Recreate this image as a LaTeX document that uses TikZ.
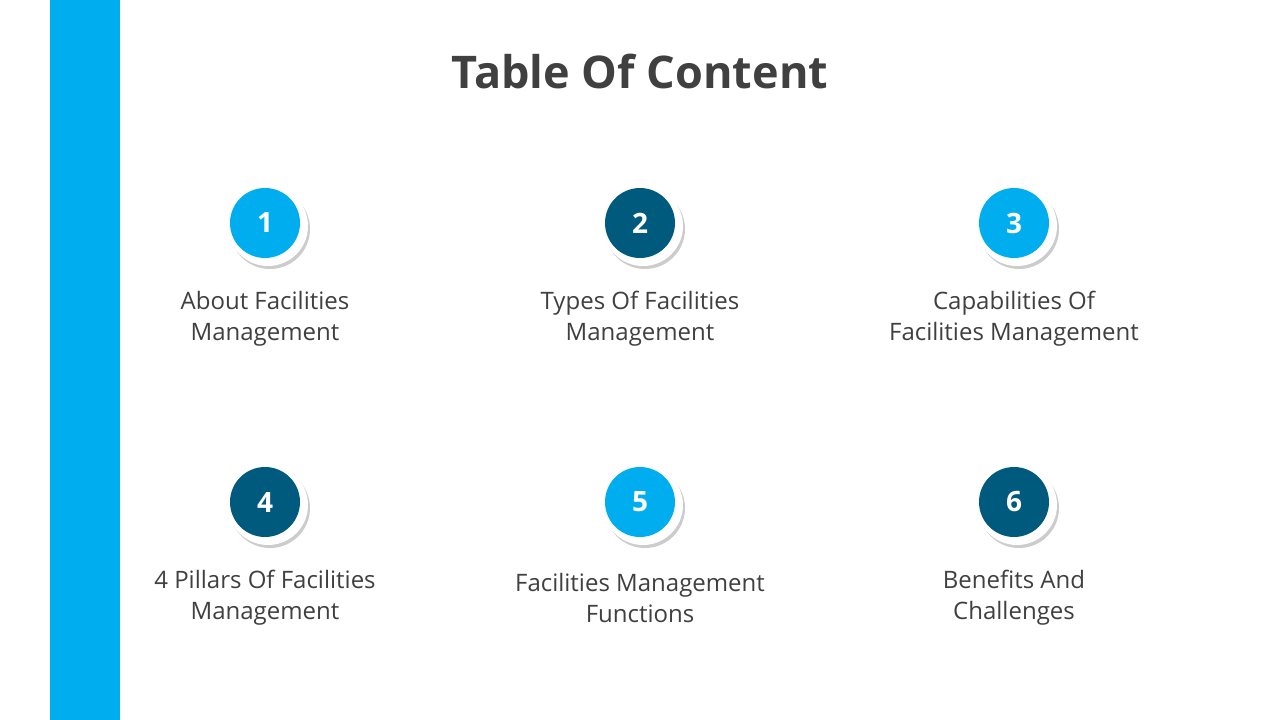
\documentclass[tikz,border=0pt]{standalone}
\usepackage{fontspec}
\setmainfont{Open Sans}
\usetikzlibrary{shadows}
\definecolor{lightblue}{HTML}{00AEEF}
\definecolor{darkblue}{HTML}{005A7E}
\definecolor{txtgray}{HTML}{404040}
\begin{document}
\begin{tikzpicture}[x=1pt,y=-1pt]
\tikzset{ring/.style={circle, fill=white, minimum size=80pt, inner sep=0pt,
    drop shadow={shadow xshift=2pt, shadow yshift=-3pt, opacity=0.4}},
  num/.style={circle, minimum size=70pt, inner sep=0pt, text=white,
    font=\fontsize{28}{32}\selectfont\bfseries},
  lbl/.style={align=center, text=txtgray, font=\fontsize{24}{31}\selectfont}}
\useasboundingbox (0,0) rectangle (1280,720);
\fill[white] (0,0) rectangle (1280,720);
\fill[lightblue] (50,0) rectangle (120,720);
\node (title) at (640,72) [text=txtgray, font=\fontsize{45}{50}\selectfont\bfseries] {Table Of Content};
% circles and labels
\foreach \i/\x/\y/\c/\t in {1/265/223/lightblue/{About Facilities\\Management},
  2/640/223/darkblue/{Types Of Facilities\\Management},
  3/1014/223/lightblue/{Capabilities Of\\Facilities Management},
  4/265/502/darkblue/{4 Pillars Of Facilities\\Management},
  5/640/502/lightblue/{Facilities Management\\Functions},
  6/1014/502/darkblue/{Benefits And\\Challenges}}{
  \node (ring\i) at (\x+3,\y+3) [ring] {};
  \node (num\i) at (\x,\y) [num, fill=\c] {\i};
  \node (lbl\i) at (\x,\y+96) [lbl] {\t};
}
\end{tikzpicture}
\end{document}
